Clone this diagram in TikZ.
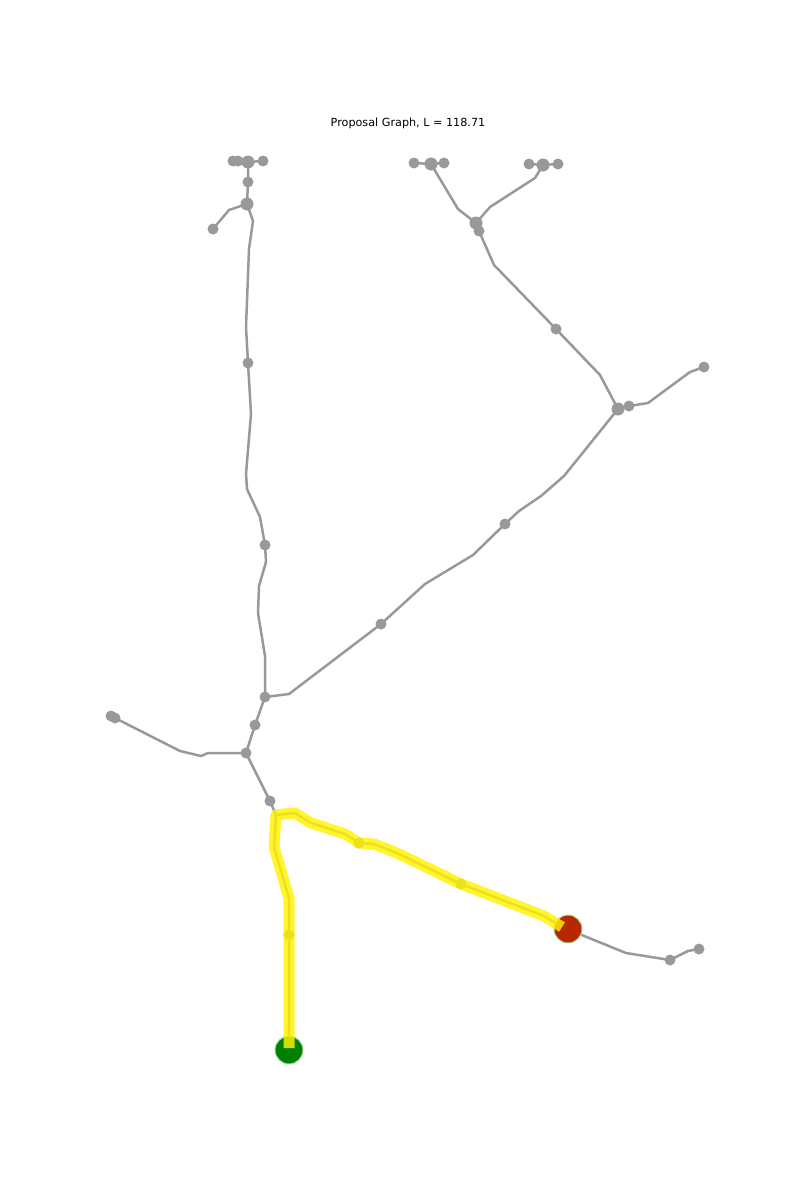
\documentclass[tikz,border=0pt]{standalone}
\usepackage{fontspec}
\setmainfont{DejaVu Sans}
\begin{document}
\begin{tikzpicture}[x=1pt,y=-1pt,
  edge/.style={draw=gedge,line width=2.5pt,line join=round,line cap=round},
  gdot/.style={circle,fill=gedge,inner sep=0pt,minimum size=11pt},
  bigdot/.style={gdot,minimum size=13pt},
  pathhl/.style={draw=yellow,opacity=0.82,line width=11pt,line join=round,line cap=butt},
  startn/.style={circle,fill=startg,draw=edgeg,line width=1pt,inner sep=0pt,minimum size=28pt},
  endn/.style={circle,fill=endr,draw=edgeg,line width=1pt,inner sep=0pt,minimum size=28pt}]
\definecolor{gedge}{RGB}{153,153,153}
\definecolor{startg}{RGB}{0,128,0}
\definecolor{endr}{RGB}{182,40,0}
\definecolor{edgeg}{RGB}{170,220,170}
\useasboundingbox (0,0) rectangle (796,1200);
\node[font=\fontsize{11.2}{13}\selectfont] (title) at (408,123) {Proposal Graph, L = 118.71};
% named points
\coordinate (a1) at (233,161); \coordinate (a2) at (238,161); \coordinate (a3) at (248,162); \coordinate (a4) at (263,161);
\coordinate (a5) at (248,182); \coordinate (a6) at (247,204); \coordinate (a7) at (213,229);
\coordinate (a8) at (248,363); \coordinate (a9) at (265,545); \coordinate (a10) at (265,697);
\coordinate (a11) at (255,725); \coordinate (a12) at (246,753); \coordinate (a13) at (270,801);
\coordinate (a14) at (111,716); \coordinate (a15) at (115,718);
\coordinate (b1) at (381,624); \coordinate (b2) at (505,524); \coordinate (b3) at (618,409);
\coordinate (b4) at (629,406); \coordinate (b5) at (704,367); \coordinate (b6) at (556,329);
\coordinate (b7) at (479,231); \coordinate (b8) at (476,223);
\coordinate (c1) at (414,163); \coordinate (c2) at (431,164); \coordinate (c3) at (444,163);
\coordinate (c4) at (529,164); \coordinate (c5) at (543,165); \coordinate (c6) at (558,164);
\coordinate (p0) at (276,815); \coordinate (p1) at (359,843); \coordinate (p2) at (461,884);
\coordinate (p3) at (289,935); \coordinate (s) at (289,1050); \coordinate (t) at (568,929);
\coordinate (tq) at (562,927); \coordinate (sq) at (289,1048);
\coordinate (d1) at (670,960); \coordinate (d2) at (699,949);
% gray edges
\draw[edge] (a1) -- (a2) -- (a3) -- (a4);
\draw[edge] (a3) -- (a5) -- (a6);
\draw[edge] (a6) -- (229,210) -- (a7);
\draw[edge] (a6) -- (253,221) -- (249,249) -- (246,327) -- (a8);
\draw[edge] (a8) -- (251,414) -- (246,474) -- (247,489) -- (260,517) -- (a9);
\draw[edge] (a9) -- (266,562) -- (259,586) -- (258,613) -- (265,656) -- (a10);
\draw[edge] (a10) -- (289,694) -- (b1);
\draw[edge] (b1) -- (425,584) -- (473,555) -- (b2);
\draw[edge] (b2) -- (519,511) -- (541,496) -- (564,476) -- (b3);
\draw[edge] (b3) -- (b4) -- (648,403) -- (690,372) -- (b5);
\draw[edge] (b3) -- (600,375) -- (b6);
\draw[edge] (b6) -- (494,265) -- (b7) -- (b8);
\draw[edge] (b8) -- (458,209) -- (c2);
\draw[edge] (c1) -- (c2) -- (c3);
\draw[edge] (b8) -- (490,207) -- (535,178) -- (c5);
\draw[edge] (c4) -- (c5) -- (c6);
\draw[edge] (a10) -- (a11) -- (a12);
\draw[edge] (a12) -- (208,753) -- (201,756) -- (180,751) -- (a15) -- (a14);
\draw[edge] (a12) -- (a13) -- (p0);
\draw[edge] (sq) -- (p3) -- (289,898) -- (274,847) -- (p0) -- (284,814) -- (295,813) -- (311,823) -- (345,834) -- (p1);
\draw[edge] (p1) -- (374,844) -- (397,853) -- (p2) -- (544,916) -- (tq);
\draw[edge] (tq) -- (626,953) -- (d1) -- (688,951) -- (d2);
% dots
\foreach \n in {a1,a2,a4,a5,a7,a8,a9,a10,a11,a12,a13,a14,a15,b1,b2,b4,b5,b6,b7,c1,c3,c4,c6,p1,p2,p3,d1,d2}
  \node[gdot] (n\n) at (\n) {};
\foreach \n in {a3,a6,b3,b8,c2,c5}
  \node[bigdot] (n\n) at (\n) {};
\node[gdot,minimum size=5pt] (np0) at (p0) {};
% start and end
\node[startn] (start) at (s) {};
\node[endn] (goal) at (t) {};
% highlighted proposal path
\draw[pathhl] (sq) -- (p3) -- (289,898) -- (274,847) -- (p0) -- (284,814) -- (295,813) -- (311,823) -- (345,834) -- (p1) -- (374,844) -- (397,853) -- (p2) -- (544,916) -- (tq);
\end{tikzpicture}
\end{document}
